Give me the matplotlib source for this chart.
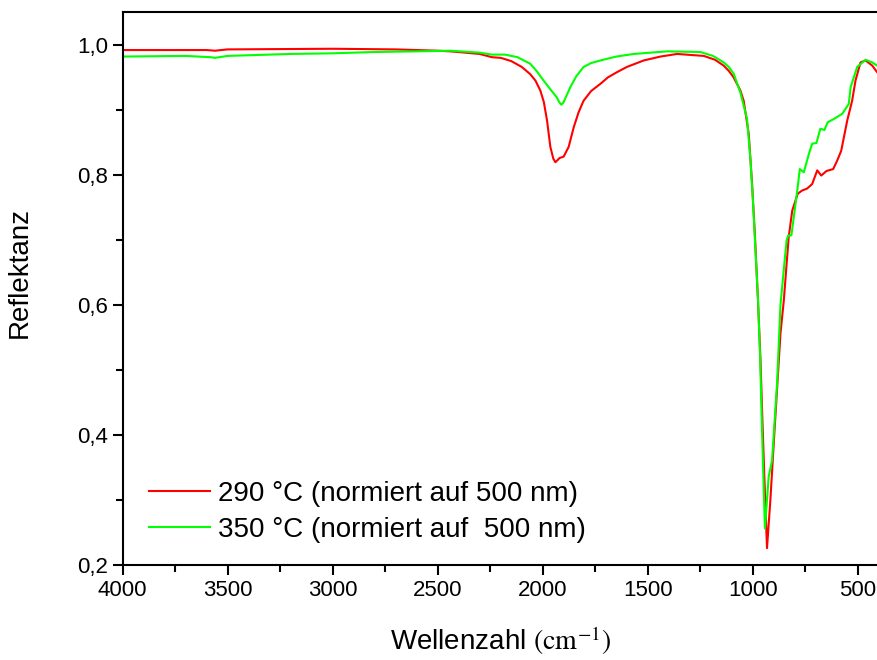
import numpy as np
import matplotlib
matplotlib.use('Agg')
import matplotlib.pyplot as plt
from matplotlib.ticker import MultipleLocator, FuncFormatter

plt.rcParams['font.family'] = ['Liberation Sans', 'DejaVu Sans']
plt.rcParams['mathtext.fontset'] = 'stix'

# Wellenzahl (cm-1) und Reflektanz
wn_290 = [4000, 3600, 3560, 3500, 3000, 2700, 2500, 2440, 2300, 2242, 2200, 2150,
          2100, 2060, 2035, 2012, 1995, 1980, 1964, 1950, 1940, 1920, 1901, 1877,
          1853, 1830, 1806, 1770, 1726, 1690, 1647, 1600, 1520, 1440, 1361, 1234,
          1180, 1139, 1115, 1092, 1060, 1044, 1020, 1004, 991,
          976, 964, 955, 945, 933, 917, 898, 869, 853, 830, 813, 787, 766, 742,
          718, 694, 675, 650, 618, 599, 580, 551, 528, 512, 488, 464, 432, 409, 400]
r_290 = [0.992, 0.992, 0.991, 0.993, 0.994, 0.993, 0.991, 0.990, 0.986, 0.981, 0.980, 0.975,
         0.966, 0.955, 0.945, 0.930, 0.912, 0.884, 0.843, 0.825, 0.8195, 0.826, 0.828, 0.843,
         0.873, 0.896, 0.914, 0.929, 0.940, 0.950, 0.958, 0.966, 0.976, 0.982, 0.986, 0.983,
         0.977, 0.968, 0.960, 0.950, 0.930, 0.914, 0.863, 0.786, 0.710,
         0.607, 0.515, 0.423, 0.330, 0.226, 0.300, 0.403, 0.556, 0.607, 0.704, 0.745, 0.771,
         0.776, 0.779, 0.786, 0.807, 0.799, 0.806, 0.809, 0.822, 0.837, 0.884, 0.914, 0.945,
         0.973, 0.976, 0.968, 0.958, 0.955]

wn_350 = [4000, 3700, 3580, 3560, 3500, 3200, 3000, 2800, 2600, 2440, 2300, 2242,
          2180, 2120, 2060, 2030, 1996, 1960, 1933, 1922, 1912, 1902, 1890, 1880,
          1869, 1840, 1806, 1770, 1726, 1650, 1567, 1409,
          1250, 1190, 1139, 1115, 1092, 1060, 1028, 1012, 1000, 988, 976, 966, 956, 949, 943,
          925, 909, 885, 869, 840, 832, 817, 787, 777, 758, 734, 718, 698, 679,
          660, 644, 615, 575, 544, 535, 504, 464, 432, 409, 400]
r_350 = [0.982, 0.983, 0.981, 0.980, 0.983, 0.986, 0.987, 0.989, 0.990, 0.991, 0.988, 0.985,
         0.985, 0.981, 0.971, 0.960, 0.945, 0.930, 0.919, 0.912, 0.908, 0.911, 0.920, 0.927,
         0.935, 0.952, 0.966, 0.972, 0.976, 0.982, 0.986, 0.990,
         0.989, 0.983, 0.973, 0.966, 0.956, 0.927, 0.886, 0.824, 0.760, 0.684, 0.610, 0.520,
         0.400, 0.320, 0.256, 0.336, 0.361, 0.480, 0.600, 0.699, 0.707, 0.707, 0.781, 0.809,
         0.804, 0.832, 0.848, 0.849, 0.871, 0.869, 0.881, 0.886, 0.894, 0.909, 0.935, 0.966,
         0.977, 0.973, 0.968, 0.966]

fig = plt.figure(figsize=(8.77, 6.6), dpi=100)
ax = fig.add_axes([0.1397, 0.1439, 0.8626, 0.8374])

ax.plot(wn_290, r_290, color='#ff0000', lw=1.5, label='290 °C (normiert auf 500 nm)')
ax.plot(wn_350, r_350, color='#00ff00', lw=1.5, label='350 °C (normiert auf  500 nm)')

ax.set_xlim(4000, 400)
ax.set_ylim(0.2, 1.05)

ax.xaxis.set_major_locator(MultipleLocator(500))
ax.xaxis.set_minor_locator(MultipleLocator(250))
ax.yaxis.set_major_locator(MultipleLocator(0.2))
ax.yaxis.set_minor_locator(MultipleLocator(0.1))
ax.yaxis.set_major_formatter(FuncFormatter(lambda v, p: f'{v:.1f}'.replace('.', ',')))

ax.tick_params(which='both', direction='out', width=1.5, labelsize=16, top=False, right=False)
ax.tick_params(which='major', length=7)
ax.tick_params(which='minor', length=5)
for s in ax.spines.values():
    s.set_linewidth(1.5)

ax.set_xlabel('Wellenzahl $(\\mathrm{cm}^{-1})$', fontsize=20, labelpad=17)
ax.set_ylabel('Reflektanz', fontsize=20)
ax.yaxis.set_label_coords(-0.118, 0.529)

ax.legend(loc='upper left', bbox_to_anchor=(0.02, 0.172), frameon=False, fontsize=20,
          handlelength=2.2, handletextpad=0.3, labelspacing=0.35, borderaxespad=0)

fig.savefig('out.png', dpi=100)
